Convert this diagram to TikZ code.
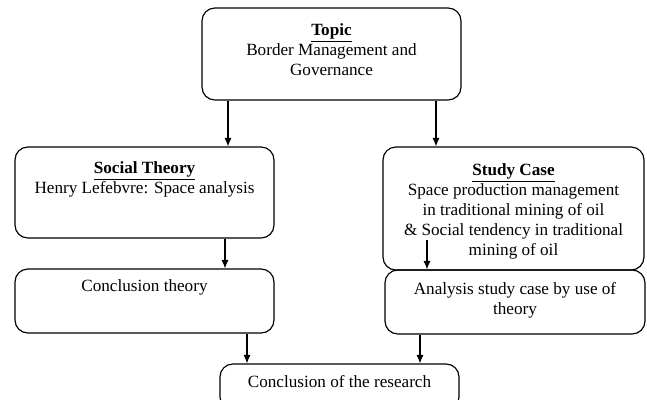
\documentclass[tikz,border=0pt]{standalone}
\usepackage{fontspec}
\setmainfont{Liberation Serif}
\usepackage{tikz}
\usetikzlibrary{arrows,arrows.meta,calc,positioning,shapes}
\tikzset{%
	box/.style     = {draw, rectangle, rounded corners=9pt, thick},
	boxsize/.style 2 args = {minimum width=#1*0.7pt, minimum height=#2*0.7pt},
	txt/.style     = {align=center, inner sep=0pt, font=\fontsize{12}{14}\selectfont},
	arrow/.style   = {thick,-{Latex[length=6pt,width=5pt]}},
}

\begin{document}
\begin{tikzpicture}[x=0.7pt,y=-0.7pt]
	
	\useasboundingbox (0,0) rectangle (647,399);
	
	% boxes
	\node[box, boxsize={259}{92}]  (topic) at (331.5,54)  {};
	\node[box, boxsize={259}{91}]  (soc)   at (144.5,192.5) {};
	\node[box, boxsize={259}{64}]  (conth) at (144.5,301) {};
	\node[box, boxsize={261}{123}] (case)  at (513.5,208.5) {};
	\node[box, boxsize={260}{64}]  (anal)  at (515,302)   {};
	\node[box, boxsize={239}{46}]  (concl) at (339.5,387) {};
	
	% texts
	\node[txt] (topictxt) at (331.5,50) {\underline{\textbf{Topic}}\\Border Management and\\Governance};
	\node[txt] (soctxt)   at (144.5,179) {\underline{\textbf{Social Theory}}\\Henry Lefebvre: Space analysis};
	\node[txt] (conthtxt) at (144.5,287) {Conclusion theory};
	\node[txt] (casetxt)  at (513.5,211) {\underline{\textbf{Study Case}}\\Space production management\\in traditional mining of oil\\\& Social tendency in traditional\\mining of oil};
	\node[txt] (analtxt)  at (515,300)  {Analysis study case by use of\\theory};
	\node[txt] (concltxt) at (339.5,382) {Conclusion of the research};
	
	% arrows
	\draw[arrow] (topic.south -| 228,0) -- (soc.north -| 228,0);
	\draw[arrow] (topic.south -| 436,0) -- (case.north -| 436,0);
	\draw[arrow] (soc.south -| 225,0) -- (conth.north -| 225,0);
	\coordinate (casearr) at (427,240);
	\draw[arrow] (casearr) -- (anal.north -| casearr);
	\draw[arrow] (conth.south -| 247,0) -- (concl.north -| 247,0);
	\draw[arrow] (anal.south -| 420,0) -- (concl.north -| 420,0);
	
\end{tikzpicture}
\end{document}
